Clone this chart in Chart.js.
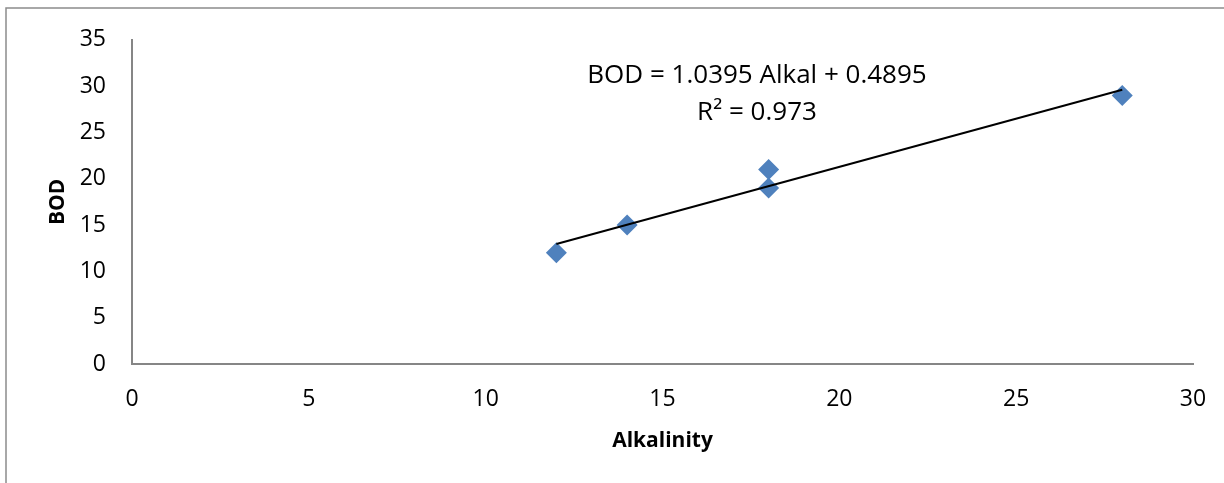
<!DOCTYPE html>
<html>
<head>
<meta charset="utf-8">
<script src="https://cdn.jsdelivr.net/npm/chart.js@4/dist/chart.umd.min.js"></script>
<style>
    body { margin: 0; background: #fff; }
    #wrap { position: relative; width: 1224px; height: 483px; }
</style>
</head>
<body>
<div id="wrap"><canvas id="bodChart"></canvas></div>
<script>
// values
const alkalinity = [12, 14, 18, 18, 28];
const bod = [12, 15, 19, 21, 29];

// linear trendline end points (from BOD = 1.0395 Alkal + 0.4895)
const trendX = [12, 28];
const trendY = [12.96, 29.60];

const equationLines = ['BOD = 1.0395 Alkal + 0.4895', 'R\u00b2 = 0.973'];

const FONT = "'Open Sans', 'Liberation Sans', sans-serif";

// outer frame + trendline equation
const framePlugin = {
    id: 'frame',
    beforeDraw(chart) {
        const ctx = chart.ctx;
        ctx.save();
        ctx.fillStyle = '#fff';
        ctx.fillRect(0, 0, chart.width, chart.height);
        ctx.strokeStyle = '#8c8c8c';
        ctx.lineWidth = 1.5;
        ctx.beginPath();
        ctx.moveTo(6, chart.height + 5);
        ctx.lineTo(6, 8);
        ctx.lineTo(chart.width + 5, 8);
        ctx.stroke();
        ctx.restore();
    },
    afterDraw(chart) {
        const ctx = chart.ctx;
        ctx.save();
        ctx.fillStyle = '#000';
        ctx.font = '26px ' + FONT;
        ctx.textAlign = 'center';
        ctx.textBaseline = 'middle';
        ctx.fillText(equationLines[0], 757, 76);
        ctx.fillText(equationLines[1], 757, 113);
        ctx.restore();
    }
};

const points = alkalinity.map((x, i) => ({ x: x, y: bod[i] }));
const trend = trendX.map((x, i) => ({ x: x, y: trendY[i] }));

new Chart(document.getElementById('bodChart').getContext('2d'), {
    type: 'scatter',
    data: {
        datasets: [
            {
                label: 'Linear (BOD)',
                data: trend,
                showLine: true,
                borderColor: '#000',
                borderWidth: 2,
                pointRadius: 0,
                order: 0
            },
            {
                label: 'BOD',
                data: points,
                pointStyle: 'rectRot',
                pointRadius: 10.5,
                backgroundColor: '#4f81bd',
                borderColor: '#4f81bd',
                borderWidth: 0,
                order: 1
            }
        ]
    },
    options: {
        responsive: true,
        maintainAspectRatio: false,
        animation: false,
        layout: {
            padding: { top: 38, right: 31, bottom: 0, left: 0 }
        },
        plugins: {
            legend: { display: false },
            tooltip: { enabled: false }
        },
        scales: {
            x: {
                type: 'linear',
                min: 0,
                max: 30,
                afterFit: (scale) => {
                    scale.height = 119;
                    // tick padding otherwise widens the side margins
                    scale.paddingLeft = 0;
                    scale.paddingRight = 0;
                },
                grid: { display: false, drawTicks: false },
                border: { display: true, color: '#868686', width: 2 },
                ticks: {
                    stepSize: 5,
                    padding: 22,
                    color: '#000',
                    font: { family: FONT, size: 23 }
                },
                title: {
                    display: true,
                    text: 'Alkalinity',
                    color: '#000',
                    font: { family: FONT, size: 21, weight: 'bold' },
                    padding: { top: 0, bottom: 29 }
                }
            },
            y: {
                type: 'linear',
                min: 0,
                max: 35,
                afterFit: (scale) => { scale.width = 132; },
                grid: { display: false, drawTicks: false },
                border: { display: true, color: '#868686', width: 2 },
                ticks: {
                    stepSize: 5,
                    padding: 26,
                    color: '#000',
                    font: { family: FONT, size: 23 }
                },
                title: {
                    display: true,
                    text: 'BOD',
                    color: '#000',
                    font: { family: FONT, size: 21, weight: 'bold' },
                    padding: { top: 45, bottom: 0 }
                }
            }
        }
    },
    plugins: [framePlugin]
});
</script>
</body>
</html>
